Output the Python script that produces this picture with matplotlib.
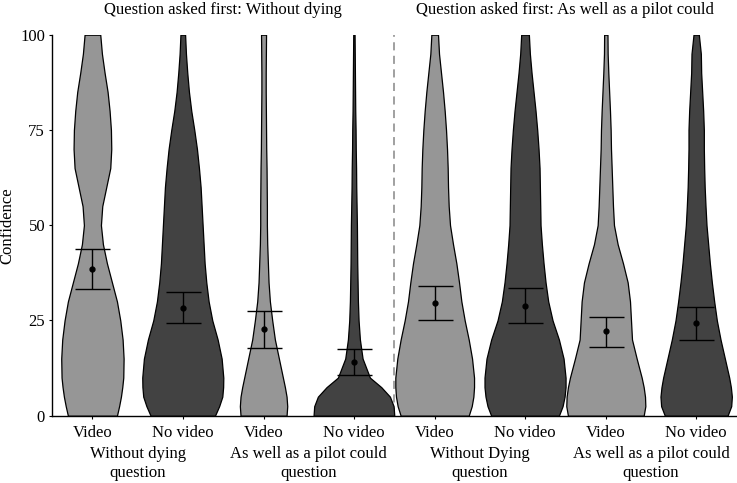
import numpy as np
import matplotlib
matplotlib.use("Agg")
import matplotlib.pyplot as plt
from matplotlib.transforms import blended_transform_factory

plt.rcParams['font.family'] = ['Liberation Serif', 'DejaVu Serif']
plt.rcParams['font.size'] = 12

# Data
group_titles = ["Question asked first: Without dying",
                "Question asked first: As well as a pilot could"]
question_labels = ["Without dying\nquestion", "As well as a pilot could\nquestion",
                   "Without Dying\nquestion", "As well as a pilot could\nquestion"]
video_labels = ["Video", "No video"] * 4

# confidence levels where the violin widths were read
levels = [0, 2.5, 5, 7.5, 10, 15, 20, 25, 30, 35, 40, 45, 50,
          55, 60, 65, 70, 75, 80, 85, 90, 95, 100]

# relative density (violin half-width) at each level, one list per violin
dens_1 = [73.5, 80, 85.5, 89.5, 92.5, 93.5, 90.5, 83.5, 73.5, 58.5, 43.5, 31.5, 25.5,
          29.5, 41.5, 53.5, 56.5, 55.5, 51.5, 45.5, 36.5, 28.5, 23.5]
dens_2 = [96.5, 109, 118.5, 121, 121.5, 116.5, 104.5, 88.5, 77.5, 70.5, 65.5, 62.5, 59.5,
          56.5, 53.5, 48.5, 42.5, 34.5, 25.5, 18.5, 13.5, 9.5, 7]
dens_3 = [69, 71, 69, 64, 58, 46, 34, 26, 19, 15, 13, 11, 10,
          10, 9.5, 9, 8, 7.5, 7, 6.5, 6.5, 7, 7.5]
dens_4 = [121, 119, 108, 82, 48, 26, 18, 14, 12, 11, 10, 9.5, 9,
          8, 7, 6.5, 5.5, 5, 4, 3.5, 3, 2.5, 2]
dens_5 = [102, 111, 116, 118, 118, 112, 102, 90, 80, 73, 65, 55, 46,
          42, 40, 39, 37, 34, 30, 25, 19, 13, 10]
dens_6 = [101.5, 112.5, 118.5, 121.5, 121.5, 115.5, 101.5, 82.5, 69.5, 61.5, 55.5, 50.5, 46.5,
          45.5, 44.5, 43.5, 40.5, 36.5, 31.5, 25.5, 19.5, 14.5, 11.5]
dens_7 = [113.5, 118.5, 117.5, 113.5, 107.5, 92.5, 78.5, 75.5, 72.5, 65.5, 51.5, 35.5, 24.5,
          21.5, 19.5, 17.5, 15.5, 14.5, 12.5, 10, 7.5, 5.5, 5]
dens_8 = [94, 105, 107, 104, 99, 86, 73, 62, 54, 47, 41, 36, 31,
          28, 25.5, 24, 23, 23, 21, 18, 15, 14, 8]
densities = [dens_1, dens_2, dens_3, dens_4, dens_5, dens_6, dens_7, dens_8]

means = [38.4, 28.4, 22.7, 14.1, 29.6, 28.9, 22.2, 24.3]
ci_low = [33.2, 24.4, 17.8, 10.6, 25.0, 24.3, 18.1, 19.9]
ci_high = [43.7, 32.5, 27.5, 17.6, 34.0, 33.4, 26.0, 28.5]

light = '#969696'
dark = '#424242'
colors = [light, dark] * 4

fig = plt.figure(figsize=(7.37, 4.83), dpi=100)
ax = fig.add_axes([0.0706, 0.1393, 0.9288, 0.7888])

cats = np.arange(1, 5)
offset = 0.264
xpos = np.ravel([[c - offset, c + offset] for c in cats])
scale = 1 / 513.0  # density units -> x axis units

lv = np.array(levels)
for x, d, col in zip(xpos, densities, colors):
    hw = np.array(d) * scale
    ax.fill_betweenx(lv, x - hw, x + hw, facecolor=col, edgecolor='black',
                     linewidth=0.9, zorder=2)

ax.errorbar(xpos, means,
            yerr=[np.array(means) - np.array(ci_low), np.array(ci_high) - np.array(means)],
            fmt='o', color='black', markersize=3.5, elinewidth=1.0,
            capsize=12.6, capthick=1.0, zorder=3)

ax.axvline(2.5, color='#999999', linestyle=(0, (4.5, 3)), linewidth=1.3, zorder=1)

ax.set_xlim(0.5, 4.5)
ax.set_ylim(0, 100)
ax.set_yticks([0, 25, 50, 75, 100])
ax.set_xticks(xpos)
ax.set_xticklabels(video_labels)
ax.tick_params(axis='both', direction='out', length=2, width=0.8, pad=3, labelsize=12)
ax.tick_params(axis='x', pad=5)
ax.set_ylabel("Confidence")
ax.yaxis.set_label_coords(-0.053, 0.5)
for side in ['top', 'right']:
    ax.spines[side].set_visible(False)
for side in ['left', 'bottom']:
    ax.spines[side].set_linewidth(1.0)

trans = blended_transform_factory(ax.transData, fig.transFigure)
for c, lab in zip(cats, question_labels):
    ax.text(c, 1 - 446 / 483, lab, transform=trans, ha='center', va='top',
            fontsize=12, linespacing=1.25)
for i, t in enumerate(group_titles):
    ax.text(1.5 + 2 * i, 1 - 10 / 483, t, transform=trans, ha='center', va='center',
            fontsize=12)

fig.savefig("out.png", dpi=100)
